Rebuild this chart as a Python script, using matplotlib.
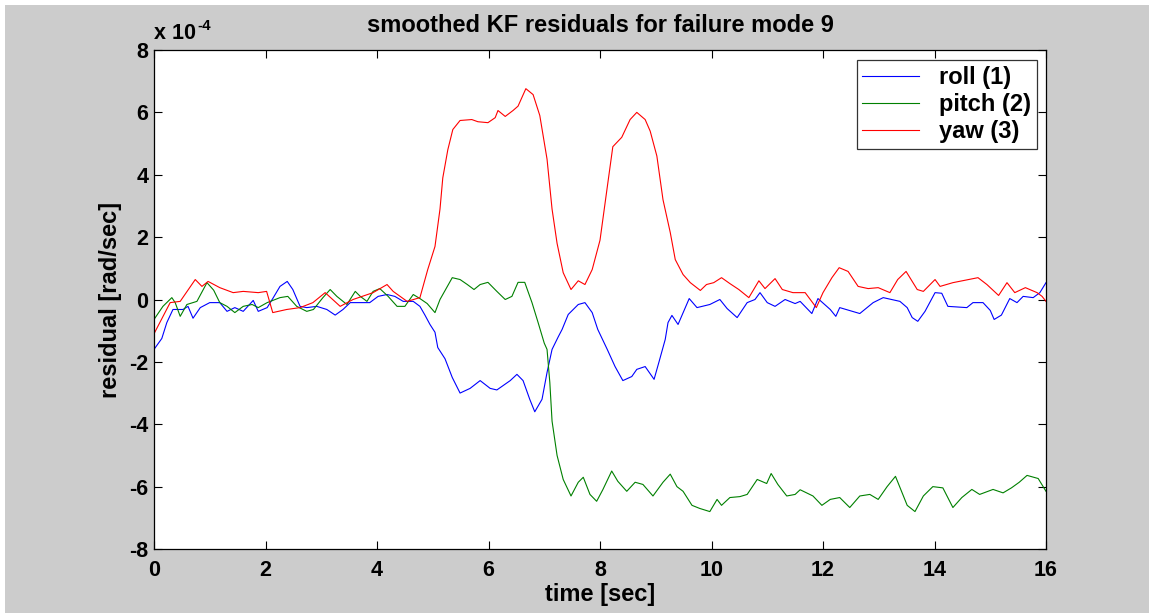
import matplotlib
matplotlib.use("Agg")
import matplotlib.pyplot as plt
from matplotlib.patches import Rectangle
import numpy as np

plt.rcParams['font.family'] = ['Liberation Sans', 'DejaVu Sans']
plt.rcParams['font.weight'] = 'bold'

# residuals, in units of 1e-4 rad/sec
roll_t = [0, 0.14, 0.23, 0.34, 0.52, 0.61, 0.70, 0.83, 1.00, 1.18, 1.31, 1.45, 1.60, 1.78,
          1.87, 2.03, 2.13, 2.26, 2.39, 2.49, 2.62, 2.74, 2.92, 3.10, 3.25, 3.39, 3.52, 3.70,
          3.87, 4.02, 4.18, 4.32, 4.47, 4.65, 4.77, 4.86, 4.95, 5.04, 5.09, 5.22, 5.35, 5.49,
          5.67, 5.85, 6.03, 6.15, 6.39, 6.51, 6.62, 6.74, 6.83, 6.96, 7.05, 7.14, 7.25, 7.32,
          7.43, 7.61, 7.73, 7.86, 7.96, 8.13, 8.27, 8.41, 8.57, 8.66, 8.81, 8.97, 9.06, 9.17,
          9.22, 9.29, 9.40, 9.60, 9.74, 9.97, 10.15, 10.28, 10.46, 10.64, 10.78, 10.87, 11.00,
          11.14, 11.32, 11.50, 11.59, 11.80, 11.91, 12.13, 12.23, 12.30, 12.66, 12.90, 13.08,
          13.38, 13.51, 13.60, 13.70, 13.83, 14.01, 14.13, 14.24, 14.58, 14.69, 14.87, 15.00,
          15.07, 15.20, 15.35, 15.48, 15.59, 15.77, 15.89, 16.0]
roll = [-1.6, -1.25, -0.74, -0.32, -0.32, -0.22, -0.6, -0.26, -0.1, -0.1, -0.38, -0.26, -0.38,
        -0.03, -0.38, -0.26, 0.03, 0.42, 0.58, 0.32, -0.22, -0.26, -0.22, -0.32, -0.5, -0.32,
        -0.1, -0.1, -0.1, 0.1, 0.16, 0.1, -0.06, -0.06, -0.22, -0.5, -0.8, -1.05, -1.54, -1.9,
        -2.5, -3.0, -2.85, -2.6, -2.85, -2.9, -2.6, -2.4, -2.6, -3.2, -3.6, -3.2, -2.34, -1.6,
        -1.2, -0.96, -0.48, -0.16, -0.1, -0.42, -0.96, -1.6, -2.15, -2.6, -2.47, -2.24, -2.15,
        -2.56, -1.99, -1.28, -0.74, -0.51, -0.8, 0.03, -0.26, -0.16, 0.0, -0.29, -0.58, -0.1,
        0.0, 0.22, -0.1, -0.22, 0.0, -0.13, -0.06, -0.45, 0.03, -0.32, -0.54, -0.26, -0.45,
        -0.1, 0.06, -0.06, -0.26, -0.58, -0.7, -0.38, 0.22, 0.2, -0.22, -0.26, -0.1, -0.1,
        -0.35, -0.64, -0.5, 0.03, -0.1, 0.1, 0.06, 0.22, 0.54]

pitch_t = [0, 0.16, 0.32, 0.38, 0.47, 0.59, 0.77, 0.95, 1.07, 1.18, 1.31, 1.45, 1.60, 1.76,
           1.87, 2.03, 2.26, 2.40, 2.56, 2.74, 2.86, 3.03, 3.16, 3.28, 3.46, 3.61, 3.70, 3.82,
           3.93, 4.05, 4.20, 4.36, 4.50, 4.65, 4.77, 4.90, 5.04, 5.13, 5.35, 5.49, 5.62, 5.74,
           5.85, 5.99, 6.15, 6.30, 6.42, 6.53, 6.65, 6.78, 6.89, 7.00, 7.05, 7.10, 7.14, 7.23,
           7.34, 7.48, 7.61, 7.70, 7.82, 7.94, 8.05, 8.21, 8.32, 8.48, 8.63, 8.77, 8.95, 9.13,
           9.26, 9.38, 9.49, 9.65, 9.79, 9.97, 10.10, 10.18, 10.33, 10.51, 10.64, 10.82, 10.99,
           11.07, 11.19, 11.35, 11.50, 11.59, 11.82, 11.98, 12.13, 12.30, 12.48, 12.66, 12.84,
           12.99, 13.15, 13.30, 13.51, 13.65, 13.80, 13.97, 14.15, 14.33, 14.49, 14.67, 14.81,
           15.05, 15.23, 15.38, 15.52, 15.66, 15.86, 16.0]
pitch = [-0.64, -0.22, 0.06, -0.1, -0.54, -0.16, -0.06, 0.54, 0.3, -0.1, -0.22, -0.42, -0.22,
         -0.16, -0.26, -0.1, 0.06, 0.1, -0.22, -0.38, -0.32, 0.06, 0.32, 0.1, -0.16, 0.26, 0.1,
         -0.06, 0.26, 0.35, 0.1, -0.22, -0.22, 0.16, 0.03, -0.13, -0.42, 0.0, 0.7, 0.64, 0.48,
         0.32, 0.48, 0.55, 0.26, 0.0, 0.1, 0.55, 0.55, -0.1, -0.74, -1.4, -1.6, -2.66, -3.9,
         -5.0, -5.77, -6.3, -5.86, -5.7, -6.25, -6.47, -6.1, -5.5, -5.83, -6.15, -5.86, -5.93,
         -6.3, -5.86, -5.6, -6.0, -6.15, -6.6, -6.7, -6.8, -6.41, -6.6, -6.35, -6.32, -6.25,
         -5.77, -5.9, -5.58, -5.93, -6.3, -6.25, -6.1, -6.3, -6.6, -6.41, -6.35, -6.67, -6.3,
         -6.25, -6.41, -6.0, -5.67, -6.6, -6.8, -6.3, -6.0, -6.04, -6.67, -6.35, -6.09, -6.25,
         -6.09, -6.2, -6.04, -5.86, -5.64, -5.74, -6.15]

yaw_t = [0, 0.29, 0.47, 0.74, 0.86, 0.97, 1.18, 1.42, 1.60, 1.87, 2.02, 2.13, 2.38, 2.62,
         2.85, 3.07, 3.34, 3.57, 3.93, 4.18, 4.29, 4.54, 4.77, 4.91, 5.04, 5.13, 5.18, 5.27,
         5.36, 5.49, 5.70, 5.81, 5.99, 6.12, 6.17, 6.30, 6.44, 6.53, 6.67, 6.80, 6.92, 7.05,
         7.14, 7.23, 7.34, 7.48, 7.61, 7.73, 7.86, 8.00, 8.13, 8.23, 8.39, 8.54, 8.66, 8.81,
         8.90, 9.02, 9.13, 9.26, 9.35, 9.49, 9.62, 9.80, 9.91, 10.04, 10.18, 10.33, 10.49,
         10.67, 10.85, 10.96, 11.14, 11.27, 11.46, 11.68, 11.88, 12.00, 12.16, 12.29, 12.45,
         12.63, 12.81, 12.99, 13.20, 13.34, 13.49, 13.69, 13.80, 14.01, 14.10, 14.33, 14.78,
         14.94, 15.15, 15.30, 15.44, 15.63, 15.84, 15.93, 16.0]
yaw = [-1.1, -0.1, -0.06, 0.64, 0.42, 0.58, 0.38, 0.22, 0.26, 0.22, 0.26, -0.42, -0.32, -0.26,
       -0.1, 0.22, -0.22, 0.0, 0.22, 0.48, 0.26, -0.06, 0.06, 0.96, 1.7, 2.9, 3.9, 4.8, 5.45,
       5.74, 5.77, 5.7, 5.67, 5.83, 6.06, 5.87, 6.06, 6.2, 6.76, 6.57, 5.9, 4.5, 2.9, 1.8, 0.86,
       0.32, 0.6, 0.48, 0.96, 1.9, 3.6, 4.9, 5.2, 5.77, 6.0, 5.77, 5.4, 4.6, 3.2, 2.15, 1.28,
       0.8, 0.54, 0.29, 0.48, 0.54, 0.7, 0.51, 0.32, 0.06, 0.6, 0.35, 0.67, 0.32, 0.22, 0.22,
       -0.26, 0.22, 0.7, 1.02, 0.9, 0.42, 0.35, 0.38, 0.22, 0.64, 0.9, 0.32, 0.26, 0.64, 0.42,
       0.54, 0.7, 0.48, 0.13, 0.54, 0.22, 0.38, 0.22, 0.1, -0.06]

labels = ['roll (1)', 'pitch (2)', 'yaw (3)']
colors = ['#0000ff', '#008000', '#ff0000']
scale = 1e-4

fig = plt.figure(figsize=(11.49, 6.13), dpi=100, facecolor='white')
# grey figure panel, leaving a thin white strip on the top and left edges
fig.patches.append(Rectangle((5 / 1149, 0), 1, (613 - 5) / 613, transform=fig.transFigure,
                             facecolor='#cccccc', edgecolor='none', zorder=-10))

ax = fig.add_axes([154 / 1149, 64 / 613, 892 / 1149, 499 / 613])
ax.set_facecolor('white')

for t, v, lab, c in zip([roll_t, pitch_t, yaw_t], [roll, pitch, yaw], labels, colors):
    ax.plot(t, np.array(v) * scale, color=c, lw=0.8, label=lab)

ax.set_xlim(0, 16)
ax.set_ylim(-8e-4, 8e-4)
ax.set_xticks(np.arange(0, 17, 2))
ax.set_yticks(np.arange(-8, 9, 2) * scale)
ax.set_xticklabels([str(v) for v in range(0, 17, 2)])
ax.set_yticklabels([str(v) for v in range(-8, 9, 2)])
ax.tick_params(direction='in', length=6, width=0.8, top=True, right=True, labelsize=15.5)
ax.tick_params(axis='x', pad=8)
ax.tick_params(axis='y', pad=4)
for lbl in ax.get_xticklabels() + ax.get_yticklabels():
    lbl.set_fontweight('bold')
for s in ax.spines.values():
    s.set_linewidth(0.9)

ax.set_xlabel('time [sec]', fontsize=17, fontweight='bold', labelpad=1)
ax.set_ylabel('residual [rad/sec]', fontsize=17, fontweight='bold', labelpad=5)
ax.set_title('smoothed KF residuals for failure mode 9', fontsize=17, fontweight='bold', pad=13)

# exponent label above the y axis
ax.text(0.0, 1.012, 'x 10', transform=ax.transAxes, fontsize=15.5, fontweight='bold',
        ha='left', va='bottom')
ax.text(0.049, 1.035, '-4', transform=ax.transAxes, fontsize=11, fontweight='bold',
        ha='left', va='bottom')

leg = ax.legend(loc='upper right', bbox_to_anchor=(0.99, 0.98), fontsize=17,
                frameon=True, fancybox=False, edgecolor='black', borderpad=0.25,
                handlelength=2.4, handletextpad=0.85, labelspacing=0.18, borderaxespad=0)
leg.get_frame().set_linewidth(0.9)
for txt in leg.get_texts():
    txt.set_fontweight('bold')

fig.savefig('out.png', dpi=100, facecolor=fig.get_facecolor())
